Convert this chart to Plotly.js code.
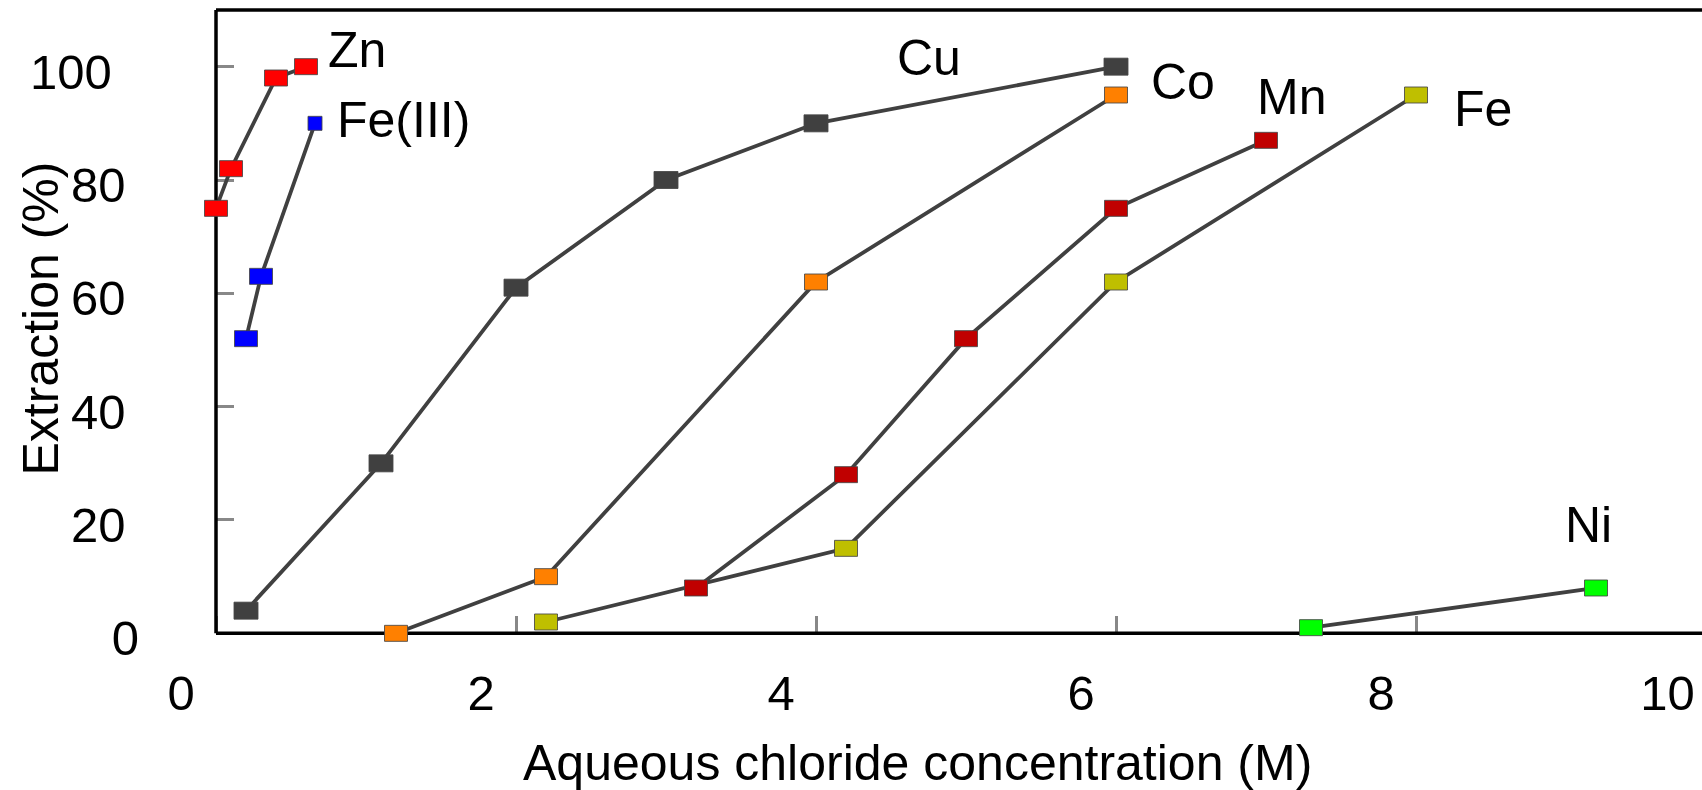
<!DOCTYPE html>
<html>
<head>
<meta charset="utf-8">
<script src="https://cdn.plot.ly/plotly-3.0.1.min.js"></script>
<style>
html,body{margin:0;padding:0;overflow:hidden;background:#ffffff;}
#chart{width:1740px;height:790px;}
</style>
</head>
<body>
<div id="chart"></div>
<script>
// ---- data ----
const seriesNames = ["Zn", "Fe(III)", "Cu", "Co", "Mn", "Fe", "Ni"];
const xZn = [0.0, 0.1, 0.4, 0.6];
const yZn = [75, 82, 98, 100];
const xFe3 = [0.2, 0.3, 0.66];
const yFe3 = [52, 63, 90];
const xCu = [0.2, 1.1, 2.0, 3.0, 4.0, 6.0];
const yCu = [4, 30, 61, 80, 90, 100];
const xCo = [1.2, 2.2, 4.0, 6.0];
const yCo = [0, 10, 62, 95];
const xMn = [3.2, 4.2, 5.0, 6.0, 7.0];
const yMn = [8, 28, 52, 75, 87];
const xFe = [2.2, 4.2, 6.0, 8.0];
const yFe = [2, 15, 62, 95];
const xNi = [7.3, 9.2];
const yNi = [1, 8];
const xTickVals = [0, 2, 4, 6, 8, 10];
const xTickText = ["0", "2", "4", "6", "8", "10"];
const yTickVals = [0, 20, 40, 60, 80, 100];
const yTickText = ["0", "20", "40", "60", "80", "100"];
const xTitle = "Aqueous chloride concentration (M)";
const yTitle = "Extraction (%)";

// ---- styles / positions ----
const colors = {"Zn":"#ff0000","Fe(III)":"#0000ff","Cu":"#404040","Co":"#ff8000","Mn":"#c00000","Fe":"#bfbf00","Ni":"#00ff00"};
const markerW = {"Zn":23,"Fe(III)":23,"Cu":24,"Co":23,"Mn":23,"Fe":23,"Ni":23};
const markerH = {"Zn":16,"Fe(III)":16,"Cu":17,"Co":16,"Mn":16,"Fe":16,"Ni":16};
const labelX = {"Zn":0.94,"Fe(III)":1.253,"Cu":4.753,"Co":6.447,"Mn":7.17,"Fe":8.447,"Ni":9.147};
const labelY = {"Zn":102.9,"Fe(III)":90.6,"Cu":101.5,"Co":97.3,"Mn":94.7,"Fe":92.5,"Ni":19.1};
// extra trailing padding (non-breaking spaces) reproducing the reference's uneven label placement
const yTickPad = {"0":0,"20":1,"40":1,"60":1,"80":1,"100":2};
const xTickPad = {"0":0,"2":0,"4":0,"6":0,"8":0,"10":2};

const dataX = {"Zn":xZn,"Fe(III)":xFe3,"Cu":xCu,"Co":xCo,"Mn":xMn,"Fe":xFe,"Ni":xNi};
const dataY = {"Zn":yZn,"Fe(III)":yFe3,"Cu":yCu,"Co":yCo,"Mn":yMn,"Fe":yFe,"Ni":yNi};

const FONT = "Liberation Sans, Arial, Helvetica, sans-serif";
const W = 1740, H = 790;
const mL = 201, mR = 10, mT = 10, mB = 145;
const plotW = W - mL - mR, plotH = H - mT - mB;
const pxPerX = 150;
const xMin = -0.1, xMax = xMin + plotW / pxPerX;
const yMax = 110, yMin = -2.06;
const p0 = (0 - xMin) / (xMax - xMin);   // paper x of data x=0
const q0 = (0 - yMin) / (yMax - yMin);   // paper y of data y=0
const paperX = px => (px - mL) / plotW;
const paperY = py => (mT + plotH - py) / plotH;

const traces = seriesNames.map(n => ({
  type: "scatter", mode: "lines", name: n,
  x: dataX[n], y: dataY[n],
  line: {color: "#404040", width: 3.8},
  hoverinfo: "x+y+name", showlegend: false
}));

const shapes = [
  {type:"line", xref:"paper", yref:"paper", x0:p0, x1:p0, y0:q0, y1:1, line:{color:"#000", width:3.5}, layer:"above"},
  {type:"line", xref:"paper", yref:"paper", x0:p0, x1:1, y0:q0, y1:q0, line:{color:"#000", width:3.5}, layer:"above"},
  {type:"line", xref:"paper", yref:"paper", x0:p0, x1:1, y0:1, y1:1, line:{color:"#000", width:3.5}, layer:"above"}
];
seriesNames.forEach(n => {
  dataX[n].forEach((xv, i) => {
    let w = markerW[n], h = markerH[n];
    if (n === "Fe(III)" && i === dataX[n].length - 1) { w = 14; h = 14; }
    shapes.push({
      type:"rect", xref:"x", yref:"y", layer:"above",
      xsizemode:"pixel", xanchor:xv, x0:-w/2, x1:w/2,
      ysizemode:"pixel", yanchor:dataY[n][i], y0:-h/2, y1:h/2,
      fillcolor: colors[n], line:{color:"rgba(70,70,70,0.85)", width:1}
    });
  });
});

const annotations = seriesNames.map(n => ({
  x: labelX[n], y: labelY[n], xref:"x", yref:"y", text: n, showarrow:false,
  xanchor:"center", yanchor:"middle", font:{family:FONT, size:50, color:"#000"}
}));
annotations.push({
  xref:"paper", yref:"paper", x:paperX(917), y:paperY(763), text:xTitle, showarrow:false,
  xanchor:"center", yanchor:"middle", font:{family:FONT, size:50, color:"#000"}
});
annotations.push({
  xref:"paper", yref:"paper", x:paperX(40), y:paperY(318.5), text:yTitle, showarrow:false,
  textangle:-90, xanchor:"center", yanchor:"middle", font:{family:FONT, size:50, color:"#000"}
});

const yTickLabels = yTickText.map(t => t + "\u00a0".repeat(yTickPad[t] || 0));
const xTickLabels = xTickText.map(t => t + "\u00a0".repeat(xTickPad[t] || 0));

const layout = {
  width: W, height: H,
  margin: {l:mL, r:mR, t:mT, b:mB, pad:0},
  paper_bgcolor:"#ffffff", plot_bgcolor:"#ffffff",
  showlegend:false,
  xaxis: {
    range:[xMin, xMax], anchor:"free", position:q0,
    showline:false, showgrid:false, zeroline:false,
    tickmode:"array", tickvals:xTickVals, ticktext:xTickLabels,
    ticks:"inside", ticklen:17, tickwidth:3, tickcolor:"#888888",
    ticklabelshift:-35, ticklabelstandoff:27,
    tickfont:{family:FONT, size:49, color:"#000"},
    layer:"below traces", fixedrange:true
  },
  yaxis: {
    range:[yMin, yMax], anchor:"free", position:p0,
    showline:false, showgrid:false, zeroline:false,
    tickmode:"array", tickvals:yTickVals, ticktext:yTickLabels,
    ticks:"inside", ticklen:17, tickwidth:3, tickcolor:"#888888",
    ticklabelshift:5, ticklabelstandoff:77,
    tickfont:{family:FONT, size:49, color:"#000"},
    layer:"below traces", fixedrange:true
  },
  shapes: shapes,
  annotations: annotations
};

Plotly.newPlot("chart", traces, layout, {displayModeBar:false, staticPlot:true});
</script>
</body>
</html>
